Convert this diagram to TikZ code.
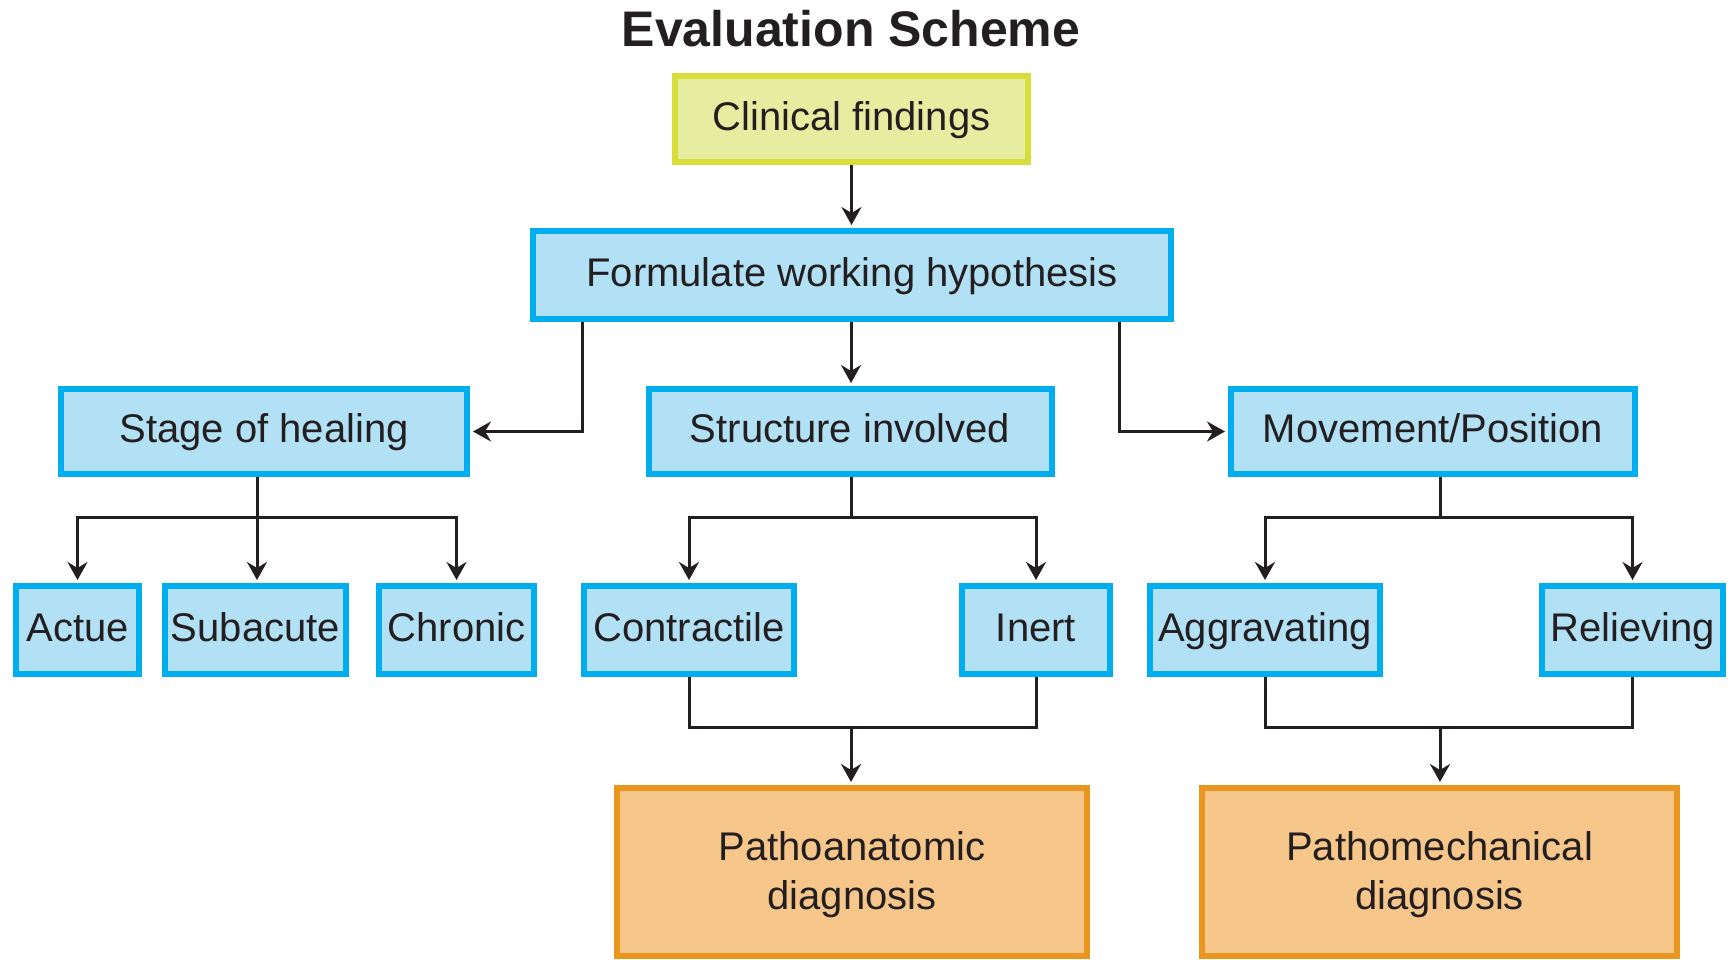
\documentclass[tikz,border=0pt]{standalone}
\usepackage{fontspec}
\setmainfont{Liberation Sans}
\usetikzlibrary{arrows.meta}
\definecolor{ink}{RGB}{35,31,32}
\definecolor{bluefill}{RGB}{178,224,245}
\definecolor{blueline}{RGB}{0,174,239}
\definecolor{yellowfill}{RGB}{230,237,160}
\definecolor{yellowline}{RGB}{215,222,60}
\definecolor{orangefill}{RGB}{247,198,138}
\definecolor{orangeline}{RGB}{234,150,30}
\begin{document}
\begin{tikzpicture}[x=0.5pt,y=-0.5pt,
  box/.style={line width=3pt, inner sep=0pt, text=ink,
    font=\fontsize{20}{24.5}\selectfont},
  onerow/.style={box, text height=14.5pt, text depth=3.5pt},
  bluebox/.style={onerow, draw=blueline, fill=bluefill},
  yellowbox/.style={onerow, draw=yellowline, fill=yellowfill},
  orangebox/.style={box, draw=orangeline, fill=orangefill, align=center},
  link/.style={draw=ink, line width=1.5pt},
  arr/.style={link, shorten >=1.5pt, -{Stealth[length=9pt,width=10pt,inset=3pt]}}]
\useasboundingbox (0,0) rectangle (1735,959);

% title
\node[anchor=base, text=ink, font=\fontsize{25}{30}\selectfont\bfseries] (title) at (851,46) {Evaluation Scheme};

% top level
\node[yellowbox, minimum width=176.5pt, minimum height=43pt] (clin) at (851.5,119) {Clinical findings};
\node[bluebox, minimum width=319pt, minimum height=44pt] (form) at (852,275) {Formulate working hypothesis};

% second level
\node[bluebox, minimum width=203pt, minimum height=42.5pt] (stage) at (264,431.5) {Stage of healing};
\node[bluebox, minimum width=201.5pt, minimum height=42.5pt] (struct) at (850,431.5) {Structure involved};
\node[bluebox, minimum width=202pt, minimum height=42.5pt] (move) at (1433,431.5) {Movement/Position};

% third level
\node[bluebox, minimum width=61.5pt, minimum height=44pt] (actue) at (77.5,630) {Actue};
\node[bluebox, minimum width=90.5pt, minimum height=44pt] (subacute) at (255.5,630) {Subacute};
\node[bluebox, minimum width=77.5pt, minimum height=44pt] (chronic) at (456.5,630) {Chronic};
\node[bluebox, minimum width=105pt, minimum height=44pt] (contr) at (689,630) {Contractile};
\node[bluebox, minimum width=74pt, minimum height=44pt] (inert) at (1036,630) {Inert};
\node[bluebox, minimum width=115pt, minimum height=44pt] (aggr) at (1265,630) {Aggravating};
\node[bluebox, minimum width=90.5pt, minimum height=44pt] (reliev) at (1632.5,630) {Relieving};

% diagnoses
\node[orangebox, minimum width=235pt, minimum height=84pt] (pa) at (852,872) {\rule{0pt}{17pt}Pathoanatomic\\diagnosis};
\node[orangebox, minimum width=237.5pt, minimum height=84pt] (pm) at (1439.5,872) {\rule{0pt}{17pt}Pathomechanical\\diagnosis};

% junction points
\coordinate (sj) at (257,517);
\coordinate (tj) at (851,517);
\coordinate (mj) at (1440,517);
\coordinate (lj) at (851,727);
\coordinate (rj) at (1440,727);

% connectors
\draw[arr] (clin.south) -- (form.north -| clin.south);
\draw[arr] (form.south -| tj) -- (struct.north -| tj);
\draw[arr] ([xshift=26pt]form.south west) |- (stage.east);
\draw[arr] ([xshift=-27.5pt]form.south east) |- (move.west);

\draw[link] (stage.south -| sj) -- (sj);
\draw[arr] (sj) -| (actue.north);
\draw[arr] (sj) -- (subacute.north -| sj);
\draw[arr] (sj) -| (chronic.north);

\draw[link] (struct.south -| tj) -- (tj);
\draw[arr] (tj) -| (contr.north);
\draw[arr] (tj) -| (inert.north);

\draw[link] (move.south -| mj) -- (mj);
\draw[arr] (mj) -| (aggr.north);
\draw[arr] (mj) -| (reliev.north);

\draw[link] (contr.south) |- (lj) -| (inert.south);
\draw[arr] (lj) -- (pa.north -| lj);
\draw[link] (aggr.south) |- (rj) -| (reliev.south);
\draw[arr] (rj) -- (pm.north -| rj);
\end{tikzpicture}
\end{document}
